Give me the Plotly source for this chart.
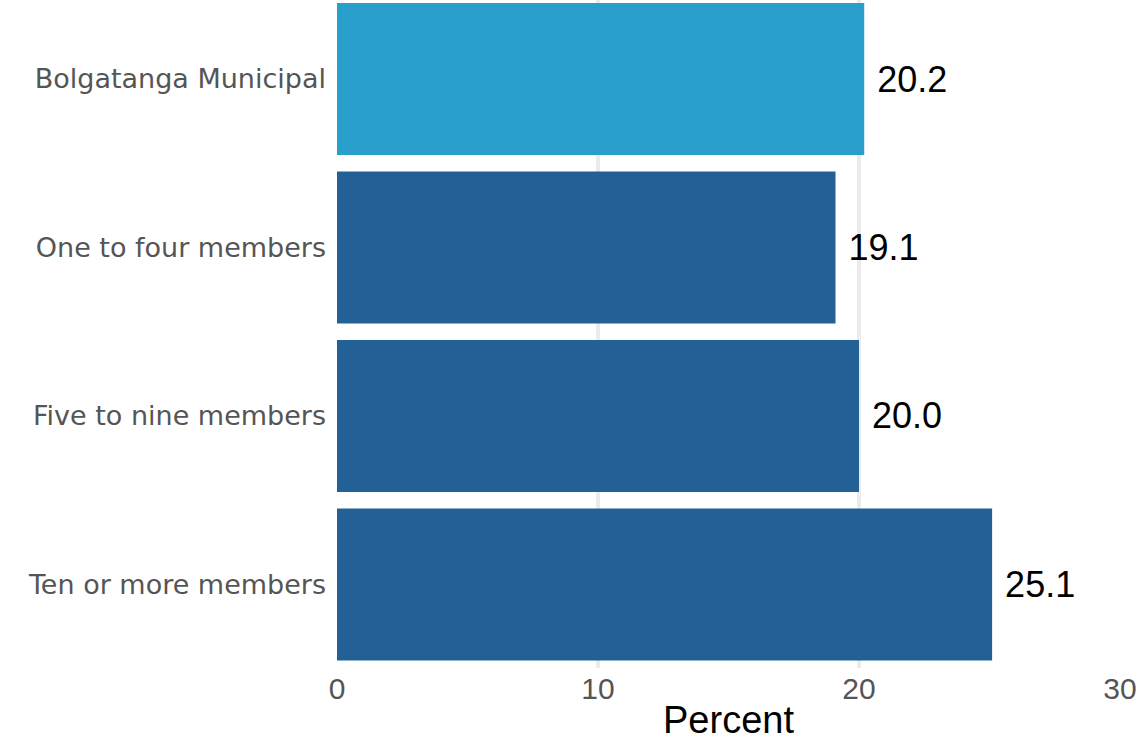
import plotly.graph_objects as go

categories = ["Bolgatanga Municipal", "One to four members", "Five to nine members", "Ten or more members"]
values = [20.2, 19.1, 20.0, 25.1]
colors = ["#29A0CC", "#226095", "#226095", "#226095"]
text_labels = ["20.2", "19.1", "20.0", "25.1"]

CAT_FONT = "DejaVu Sans"
NUM_FONT = "Liberation Sans"

fig = go.Figure(go.Bar(
    y=categories,
    x=values,
    orientation="h",
    marker=dict(color=colors, line=dict(width=0)),
    width=0.902,
    text=[" " + t for t in text_labels],
    textposition="outside",
    textfont=dict(size=36, color="#000000", family=NUM_FONT),
    cliponaxis=False,
))

fig.update_layout(
    width=1140, height=742,
    margin=dict(l=337, r=20, t=0, b=74),
    plot_bgcolor="white",
    paper_bgcolor="white",
    showlegend=False,
    font=dict(family=CAT_FONT),
    xaxis=dict(
        range=[0, 30],
        tickvals=[0, 10, 20, 30],
        tickfont=dict(size=30, color="#555555", family=NUM_FONT),
        showgrid=True, gridcolor="#EBEBEB", gridwidth=3.5,
        zeroline=False, showline=False, ticks="",
        automargin=False,
        title=dict(text="Percent", font=dict(size=38, color="#000000", family=NUM_FONT), standoff=2),
    ),
    yaxis=dict(
        range=[3.496, -0.469],
        tickfont=dict(size=27, color="#555555", family=CAT_FONT),
        showgrid=False, zeroline=False, showline=False, ticks="",
        automargin=False,
        ticklabelstandoff=10,
    ),
)

fig.write_html("out.html", config={"displayModeBar": False},
               post_script="document.body.style.margin='0';")
